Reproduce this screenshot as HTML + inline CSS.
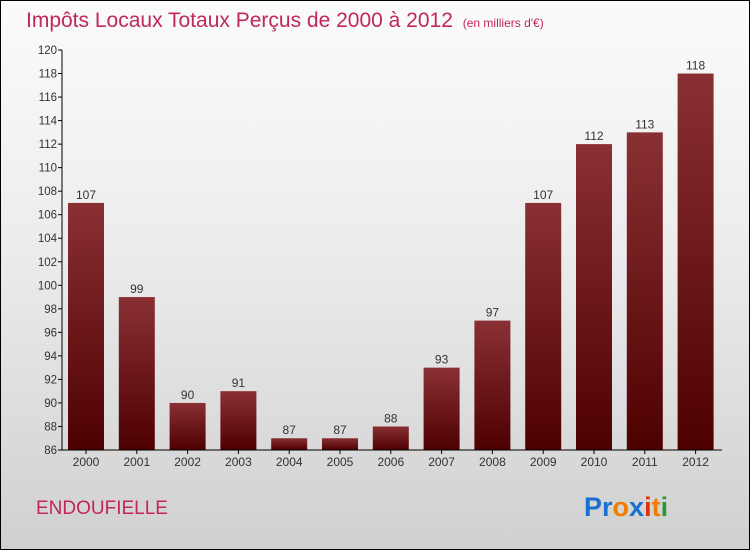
<!DOCTYPE html>
<html><head><meta charset="utf-8">
<style>
body{margin:0;}
#wrap{position:relative;width:748px;height:548px;border:1px solid #000;background:linear-gradient(#fbfbfb 0%,#ececec 45%,#d0d0d0 100%);font-family:"Liberation Sans",sans-serif;overflow:hidden;}
</style></head>
<body>
<div id="wrap">
<svg id="chart" width="748" height="548">
<defs><linearGradient id="bg" x1="0" y1="0" x2="0" y2="1"><stop offset="0" stop-color="#8a3034"/><stop offset="1" stop-color="#4e0000"/></linearGradient></defs>
<text x="25" y="26" font-size="21" fill="#c0275a">Impôts Locaux Totaux Perçus de 2000 à 2012 <tspan font-size="12" dx="4">(en milliers d'€)</tspan></text>
<g id="grid"></g><g id="bars"></g><g id="axes"></g>
<text x="35" y="513" font-size="19" fill="#c0275a">ENDOUFIELLE</text>
<text x="583" y="515" font-size="27" font-weight="bold"><tspan fill="#1a6fd0">Pr</tspan><tspan fill="#f07c00">o</tspan><tspan fill="#1a6fd0">x</tspan><tspan fill="#e03010">i</tspan><tspan fill="#f07c00">t</tspan><tspan fill="#2a9a30">i</tspan></text>
</svg>
</div>
<script>
const categories=["2000","2001","2002","2003","2004","2005","2006","2007","2008","2009","2010","2011","2012"];
const values=[107,99,90,91,87,87,88,93,97,107,112,113,118];
const yTicks=[86,88,90,92,94,96,98,100,102,104,106,108,110,112,114,116,118,120];
const NS="http://www.w3.org/2000/svg";
const x0=61,x1=721,yTop=49,yBot=449,yMin=86,yMax=120;
const y=v=>yBot-(v-yMin)/(yMax-yMin)*(yBot-yTop);
const step=(x1-x0)/categories.length;
const xc=i=>x0+step*(i+0.5)-6+i*0.0;
function mk(t,a,p){const e=document.createElementNS(NS,t);for(const k in a)e.setAttribute(k,a[k]);p.appendChild(e);return e;}
const bars=document.getElementById('bars'),axes=document.getElementById('axes');
categories.forEach((c,i)=>{
 const cx=x0+24+i*50.8,w=36;
 const r=mk('rect',{x:cx-w/2,y:y(values[i]),width:w,height:yBot-y(values[i]),fill:'url(#bg)'},bars);
 
 
 const t=mk('text',{x:cx,y:y(values[i])-4,'font-size':12,fill:'#333','text-anchor':'middle'},bars);t.textContent=values[i];
 
 
 const l=mk('text',{x:cx,y:yBot+16,'font-size':12,fill:'#333','text-anchor':'middle'},axes);l.textContent=c;
 
 
 mk('line',{x1:cx,x2:cx,y1:yBot,y2:yBot+4,stroke:'#000'},axes);
});
yTicks.forEach(v=>{
 mk('line',{x1:x0-4,x2:x0,y1:y(v),y2:y(v),stroke:'#000'},axes);
 const t=mk('text',{x:x0-5,y:y(v)+4,'font-size':11.5,fill:'#333','text-anchor':'end'},axes);t.textContent=v;
 
 
});
const ya=mk('line',{x1:x0,x2:x0,y1:yTop,y2:yBot,stroke:'#000'},axes);


const xa=mk('line',{x1:x0,x2:x1,y1:yBot,y2:yBot,stroke:'#000'},axes);


</script>
</body></html>
